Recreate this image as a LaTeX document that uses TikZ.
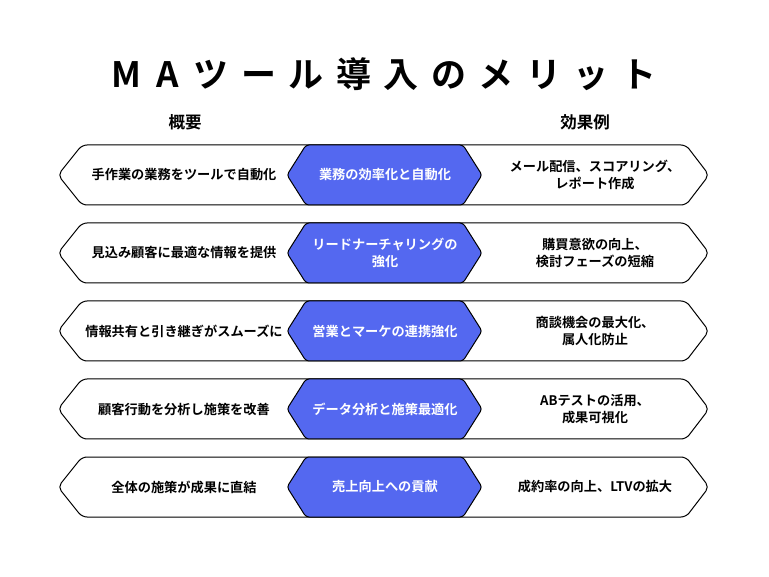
\documentclass[tikz,border=0pt]{standalone}
\usepackage{fontspec}
\setmainfont{Noto Sans CJK JP}[BoldFont={* Bold}]
\definecolor{blu}{RGB}{84,104,240}
\tikzset{
 outer/.style={draw=black,line width=1pt,fill=white,rounded corners=5pt},
 inner/.style={fill=blu,draw=black,line width=1pt,rounded corners=3pt},
 ltxt/.style={font=\bfseries\fontsize{13.2}{17}\selectfont,align=center},
 ctxt/.style={font=\bfseries\fontsize{13.2}{17}\selectfont,align=center,text=white},
 hdr/.style={font=\bfseries\fontsize{16.5}{20}\selectfont}
}
\newcommand{\rowshape}[4]{%
 \draw[outer] (58,#1) -- (82,#1-30) -- (686,#1-30) -- (709,#1) -- (686,#1+30) -- (82,#1+30) -- cycle;
 \draw[inner] (287,#1) -- (306,#1-30) -- (463,#1-30) -- (482,#1) -- (463,#1+30) -- (306,#1+30) -- cycle;
 \node[ltxt] (l#1) at (184,#1) {#2};
 \node[ctxt] (c#1) at (385,#1) {#3};
 \node[ltxt] (r#1) at (595,#1) {#4};
}
\begin{document}
\begin{tikzpicture}[x=1pt,y=-1pt]
\useasboundingbox (0,0) rectangle (769,577);
\node[font=\bfseries\fontsize{35}{40}\selectfont] (title) at (384,74) {M\hspace{15pt}A\hspace{15pt}ツ\hspace{12.5pt}ー\hspace{12.5pt}ル\hspace{12.5pt}導\hspace{12.5pt}入\hspace{12.5pt}の\hspace{12.5pt}メ\hspace{12.5pt}リ\hspace{12.5pt}ッ\hspace{12.5pt}ト};
\node[hdr] (h1) at (185,122) {概要};
\node[hdr] (h2) at (585,122) {効果例};
\rowshape{175}{手作業の業務をツールで自動化}{業務の効率化と自動化}{メール配信、スコアリング、\\レポート作成}
\rowshape{253}{見込み顧客に最適な情報を提供}{リードナーチャリングの\\強化}{購買意欲の向上、\\検討フェーズの短縮}
\rowshape{331}{情報共有と引き継ぎがスムーズに}{営業とマーケの連携強化}{商談機会の最大化、\\属人化防止}
\rowshape{409}{顧客行動を分析し施策を改善}{データ分析と施策最適化}{ABテストの活用、\\成果可視化}
\rowshape{487}{全体の施策が成果に直結}{売上向上への貢献}{成約率の向上、LTVの拡大}
\end{tikzpicture}
\end{document}
